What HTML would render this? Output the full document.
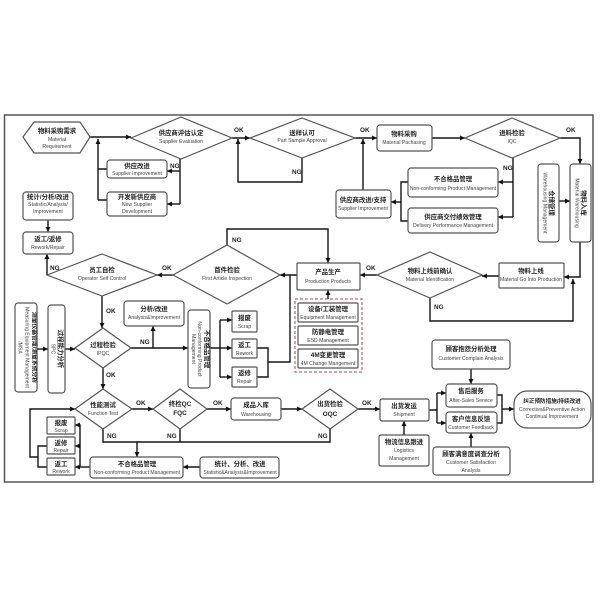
<!DOCTYPE html>
<html><head><meta charset="utf-8"><style>
html,body{margin:0;padding:0;background:#fff;}
svg{display:block;}
.c{font-family:"Liberation Sans","Noto Sans CJK SC",sans-serif;font-size:6.4px;font-weight:bold;fill:#222;text-anchor:middle;}
.e{font-family:"Liberation Sans","Noto Sans CJK SC",sans-serif;font-size:5.1px;fill:#444;text-anchor:middle;}
.l{font-family:"Liberation Sans","Noto Sans CJK SC",sans-serif;font-size:6.4px;font-weight:bold;fill:#222;}
.b{fill:#fff;stroke:#555;stroke-width:1.2;}
.w{fill:none;stroke:#151515;stroke-width:1.4;}
</style></head><body>
<svg width="600" height="600" viewBox="0 0 600 600" xmlns="http://www.w3.org/2000/svg">
<defs>
<marker id="a" viewBox="0 0 6 6" refX="6" refY="3" markerWidth="5" markerHeight="5" markerUnits="userSpaceOnUse" orient="auto"><path d="M0,0 L6,3 L0,6 z" fill="#111"/></marker>
</defs>
<rect width="600" height="600" fill="#fff"/>
<rect x="4.5" y="115" width="588.5" height="367" fill="none" stroke="#555" stroke-width="1.5"/>

<!-- connectors -->
<g class="w">
<path d="M90,137 H131" marker-end="url(#a)"/>
<path d="M98,200 V139" marker-end="url(#a)"/>
<path d="M107,169 H98 M107,200 H98"/>
<path d="M180,159 V204"/>
<path d="M180,171 H167" marker-end="url(#a)"/>
<path d="M180,204 H167" marker-end="url(#a)"/>
<path d="M232,138 H250" marker-end="url(#a)"/>
<path d="M302,158 V182 H238 V139" marker-end="url(#a)"/>
<path d="M355,138 H377" marker-end="url(#a)"/>
<path d="M363,190 V139" marker-end="url(#a)"/>
<path d="M432,138 H465" marker-end="url(#a)"/>
<path d="M560,138 H580 V164" marker-end="url(#a)"/>
<path d="M513,158 V217"/>
<path d="M513,182 H498" marker-end="url(#a)"/>
<path d="M513,217 H498" marker-end="url(#a)"/>
<path d="M408,182 H401 V221 H408"/>
<path d="M401,202 H391" marker-end="url(#a)"/>
<path d="M559,201 H570" marker-end="url(#a)"/>
<path d="M580,242 V277 H564" marker-end="url(#a)"/>
<path d="M430,298 V321 H573 V279" marker-end="url(#a)"/>
<path d="M499,276 H482" marker-end="url(#a)"/>
<path d="M377,275 H360" marker-end="url(#a)"/>
<path d="M328,299 V290" marker-end="url(#a)"/>
<path d="M227,245 V229 H328 V263" marker-end="url(#a)"/>
<path d="M297,275 H280" marker-end="url(#a)"/>
<path d="M257,348 H268 V377 H257 M268,362 H290 V275"/>
<path d="M173,275 H157" marker-end="url(#a)"/>
<path d="M47,275 V254" marker-end="url(#a)"/>
<path d="M48,220 V232" marker-end="url(#a)"/>
<path d="M102,296 V328" marker-end="url(#a)"/>
<path d="M37,349 H48" marker-end="url(#a)"/>
<path d="M65,349 H75" marker-end="url(#a)"/>
<path d="M131,348 H188" marker-end="url(#a)"/>
<path d="M153,348 V326" marker-end="url(#a)"/>
<path d="M210,348 H220 M220,320 V377"/>
<path d="M220,320 H232" marker-end="url(#a)"/>
<path d="M220,348 H232" marker-end="url(#a)"/>
<path d="M220,377 H232" marker-end="url(#a)"/>
<path d="M103,368 V389" marker-end="url(#a)"/>
<path d="M132,409 H153" marker-end="url(#a)"/>
<path d="M207,409 H231" marker-end="url(#a)"/>
<path d="M281,409 H302" marker-end="url(#a)"/>
<path d="M358,409 H380" marker-end="url(#a)"/>
<path d="M103,429 V442 H330 V429 M180,429 V442"/>
<path d="M137,442 V457" marker-end="url(#a)"/>
<path d="M200,467 H183" marker-end="url(#a)"/>
<path d="M90,467 H75" marker-end="url(#a)"/>
<path d="M80,467 V425 H75" marker-end="url(#a)"/>
<path d="M80,446 H75" marker-end="url(#a)"/>
<path d="M47,446 H38 V467 H47"/>
<path d="M38,457 H30 V409 H75" marker-end="url(#a)"/>
<path d="M404,435 V421" marker-end="url(#a)"/>
<path d="M429,410 H437 M437,393 V423"/>
<path d="M437,393 H446" marker-end="url(#a)"/>
<path d="M437,423 H446" marker-end="url(#a)"/>
<path d="M471,369 V384" marker-end="url(#a)"/>
<path d="M471,447 V433" marker-end="url(#a)"/>
<path d="M497,395 H502 V423 H497"/>
<path d="M502,409 H514" marker-end="url(#a)"/>
</g>

<!-- shapes -->
<polygon class="b" points="23,137 34,122 80,122 90,137 80,153 34,153"/>
<polygon class="b" points="131,138 181,117 232,138 181,159"/>
<polygon class="b" points="250,138 302,118 355,138 302,158"/>
<polygon class="b" points="465,138 512,118 560,138 512,158"/>
<polygon class="b" points="377,275 430,252 482,275 430,298"/>
<polygon class="b" points="173,275 227,245 280,275 227,304"/>
<polygon class="b" points="47,275 102,254 157,275 102,296"/>
<polygon class="b" points="75,348 103,328 131,348 103,368"/>
<polygon class="b" points="75,409 103,389 132,409 103,429"/>
<polygon class="b" points="153,409 180,389 207,409 180,429"/>
<polygon class="b" points="302,409 330,389 358,409 330,429"/>

<rect class="b" x="107" y="160" width="60" height="18" rx="3"/>
<rect class="b" x="107" y="192" width="60" height="24" rx="3"/>
<rect class="b" x="23" y="192" width="50" height="28" rx="3"/>
<rect class="b" x="23" y="232" width="50" height="22" rx="3"/>
<rect class="b" x="377" y="125" width="55" height="26" rx="3"/>
<rect class="b" x="408" y="168" width="90" height="29" rx="3"/>
<rect class="b" x="408" y="208" width="90" height="25" rx="3"/>
<rect class="b" x="336" y="190" width="55" height="28" rx="3"/>
<rect class="b" x="538" y="164" width="21" height="78" rx="3"/>
<rect class="b" x="570" y="164" width="21" height="78" rx="3"/>
<rect class="b" x="499" y="263" width="65" height="25" rx="1"/>
<rect class="b" x="297" y="263" width="63" height="27" rx="1"/>
<rect x="295" y="299" width="67" height="73" fill="none" stroke="#b04050" stroke-width="1" stroke-dasharray="3,2"/>
<rect class="b" x="298" y="303" width="60" height="19" rx="1"/>
<rect class="b" x="298" y="326" width="60" height="19" rx="1"/>
<rect class="b" x="298" y="349" width="60" height="19" rx="1"/>
<rect class="b" x="124" y="301" width="60" height="25" rx="3"/>
<rect class="b" x="15" y="303" width="22" height="89" rx="3"/>
<rect class="b" x="48" y="305" width="17" height="88" rx="3"/>
<rect class="b" x="188" y="310" width="22" height="78" rx="3"/>
<rect class="b" x="232" y="311" width="25" height="21" rx="1"/>
<rect class="b" x="232" y="339" width="25" height="19" rx="1"/>
<rect class="b" x="232" y="367" width="25" height="20" rx="1"/>
<rect class="b" x="47" y="417" width="28" height="17" rx="1"/>
<rect class="b" x="47" y="437" width="28" height="17" rx="1"/>
<rect class="b" x="47" y="458" width="28" height="17" rx="1"/>
<rect class="b" x="90" y="457" width="93" height="21" rx="3"/>
<rect class="b" x="200" y="457" width="79" height="21" rx="3"/>
<rect class="b" x="231" y="398" width="50" height="22" rx="3"/>
<rect class="b" x="380" y="399" width="49" height="22" rx="2"/>
<rect class="b" x="379" y="435" width="50" height="31" rx="2"/>
<rect class="b" x="432" y="340" width="78" height="29" rx="3"/>
<rect class="b" x="446" y="384" width="51" height="23" rx="3"/>
<rect class="b" x="446" y="412" width="51" height="21" rx="3"/>
<rect class="b" x="433" y="447" width="77" height="28" rx="3"/>
<rect class="b" x="514" y="391" width="77" height="37" rx="13"/>

<!-- texts -->
<text class="c" x="57" y="133">物料采购需求</text>
<text class="e" x="57" y="141">Material</text>
<text class="e" x="57" y="148">Requirement</text>

<text class="c" x="181" y="135">供应商评估认定</text>
<text class="e" x="181" y="143">Supplier Evaluation</text>

<text class="c" x="137" y="168">供应改进</text>
<text class="e" x="137" y="175">Supplier Improvement</text>
<text class="c" x="137" y="199">开发新供应商</text>
<text class="e" x="137" y="206">New Supplier</text>
<text class="e" x="137" y="213">Development</text>

<text class="c" x="48" y="199">统计/分析/改进</text>
<text class="e" x="48" y="206">Statistic/Analysis/</text>
<text class="e" x="48" y="213">Improvement</text>
<text class="c" x="48" y="241">返工/返修</text>
<text class="e" x="48" y="249">Rework/Repair</text>

<text class="c" x="302" y="135">送样认可</text>
<text class="e" x="302" y="142">Part Sample Approval</text>

<text class="c" x="404" y="136">物料采购</text>
<text class="e" x="404" y="144">Material Pachasing</text>

<text class="c" x="512" y="135">进料检验</text>
<text class="e" x="512" y="143">IQC</text>

<text class="c" x="453" y="181">不合格品管理</text>
<text class="e" x="453" y="190">Non-conforming Product Management</text>
<text class="c" x="453" y="219">供应商交付绩效管理</text>
<text class="e" x="453" y="227">Delivery Performance  Management</text>

<text class="c" x="363" y="202">供应商改进/支持</text>
<text class="e" x="363" y="210">Supplier Improvement</text>

<g transform="rotate(90,548.5,203)">
<text class="c" x="548.5" y="202">仓储管理</text>
<text class="e" x="548.5" y="208">Warehousing Management</text>
</g>
<g transform="rotate(90,580.5,203)">
<text class="c" x="580.5" y="202">物料入库</text>
<text class="e" x="580.5" y="208">Material Warehousing</text>
</g>

<text class="c" x="531" y="273">物料上线</text>
<text class="e" x="531" y="281">Material Go Into  Production</text>

<text class="c" x="430" y="273">物料上线前确认</text>
<text class="e" x="430" y="281">Material Identification</text>

<text class="c" x="328" y="274">产品生产</text>
<text class="e" x="328" y="283">Production Products</text>

<text class="c" x="328" y="311">设备/工装管理</text>
<text class="e" x="328" y="319">Equipment Management</text>
<text class="c" x="328" y="334">防静电管理</text>
<text class="e" x="328" y="342">ESD Management</text>
<text class="c" x="328" y="357">4M变更管理</text>
<text class="e" x="328" y="365">4M Change Mangement</text>

<text class="c" x="227" y="272">首件检验</text>
<text class="e" x="227" y="280">First Article Inspection</text>

<text class="c" x="102" y="272">员工自检</text>
<text class="e" x="102" y="280">Operator Self Control</text>

<text class="c" x="154" y="311">分析/改进</text>
<text class="e" x="154" y="319">Analysis&amp;Improvement</text>

<text class="c" x="103" y="347">过程检验</text>
<text class="e" x="103" y="355">IPQC</text>

<g transform="rotate(90,26,347.5)">
<text class="c" x="26" y="341" style="font-size:5.8px">测量仪器管理/测量系统分析</text>
<text class="e" x="26" y="348">Measuring Equipment Management</text>
<text class="e" x="26" y="355">/MSA</text>
</g>
<g transform="rotate(90,56.5,349)">
<text class="c" x="56.5" y="347">过程能力分析</text>
<text class="e" x="56.5" y="354">SPC</text>
</g>
<g transform="rotate(90,199,349)">
<text class="c" x="199" y="343">不合格品管理</text>
<text class="e" x="199" y="350">Non-conforming Product</text>
<text class="e" x="199" y="356">Management</text>
</g>

<text class="c" x="244.5" y="320">报废</text>
<text class="e" x="244.5" y="328">Scrap</text>
<text class="c" x="244.5" y="347">返工</text>
<text class="e" x="244.5" y="355">Rework</text>
<text class="c" x="244.5" y="375">返修</text>
<text class="e" x="244.5" y="383">Repair</text>

<text class="c" x="103" y="407">性能测试</text>
<text class="e" x="103" y="415">Function Test</text>
<text class="c" x="180" y="406">终检QC</text>
<text class="c" x="180" y="415">FQC</text>
<text class="c" x="256" y="407">成品入库</text>
<text class="e" x="256" y="416">Warehousing</text>
<text class="c" x="330" y="406">出货检验</text>
<text class="c" x="330" y="416">OQC</text>
<text class="c" x="404" y="408">出货发运</text>
<text class="e" x="404" y="416">Shipment</text>
<text class="c" x="404" y="444">物流信息跟进</text>
<text class="e" x="404" y="452">Logistics</text>
<text class="e" x="404" y="460">Management</text>

<text class="c" x="61" y="425">报废</text>
<text class="e" x="61" y="432">Scrap</text>
<text class="c" x="61" y="445">返修</text>
<text class="e" x="61" y="452">Repair</text>
<text class="c" x="61" y="466">返工</text>
<text class="e" x="61" y="473">Rework</text>

<text class="c" x="137" y="466">不合格品管理</text>
<text class="e" x="137" y="474">Non-conforming Product Management</text>
<text class="c" x="240" y="466">统计、分析、改进</text>
<text class="e" x="240" y="474">Statistic&amp;Analysis&amp;Improvement</text>

<text class="c" x="471" y="351">顾客抱怨分析处理</text>
<text class="e" x="471" y="360">Customer Complain Analysis</text>
<text class="c" x="471" y="393">售后服务</text>
<text class="e" x="471" y="402">After-Sales Service</text>
<text class="c" x="471" y="421">客户信息反馈</text>
<text class="e" x="471" y="429">Customer Feedback</text>
<text class="c" x="471" y="456">顾客满意度调查分析</text>
<text class="e" x="471" y="464">Customer Satisfaction</text>
<text class="e" x="471" y="472">Analysis</text>
<text class="c" x="552" y="403" style="font-size:5.6px">纠正预防措施/持续改进</text>
<text class="e" x="552" y="411">Corrective&amp;Preventive Action</text>
<text class="e" x="552" y="418">Continual Improvement</text>

<!-- OK / NG labels -->
<text class="l" x="234" y="132">OK</text>
<text class="l" x="360" y="132">OK</text>
<text class="l" x="566" y="132">OK</text>
<text class="l" x="170" y="168">NG</text>
<text class="l" x="292" y="174">NG</text>
<text class="l" x="503" y="170">NG</text>
<text class="l" x="232" y="242">NG</text>
<text class="l" x="366" y="270">OK</text>
<text class="l" x="434" y="309">NG</text>
<text class="l" x="162" y="270">OK</text>
<text class="l" x="50" y="270">NG</text>
<text class="l" x="106" y="313">OK</text>
<text class="l" x="140" y="344">NG</text>
<text class="l" x="106" y="377">OK</text>
<text class="l" x="136" y="405">OK</text>
<text class="l" x="213" y="405">OK</text>
<text class="l" x="362" y="405">OK</text>
<text class="l" x="107" y="438">NG</text>
<text class="l" x="167" y="438">NG</text>
<text class="l" x="318" y="438">NG</text>
</svg>
</body></html>
